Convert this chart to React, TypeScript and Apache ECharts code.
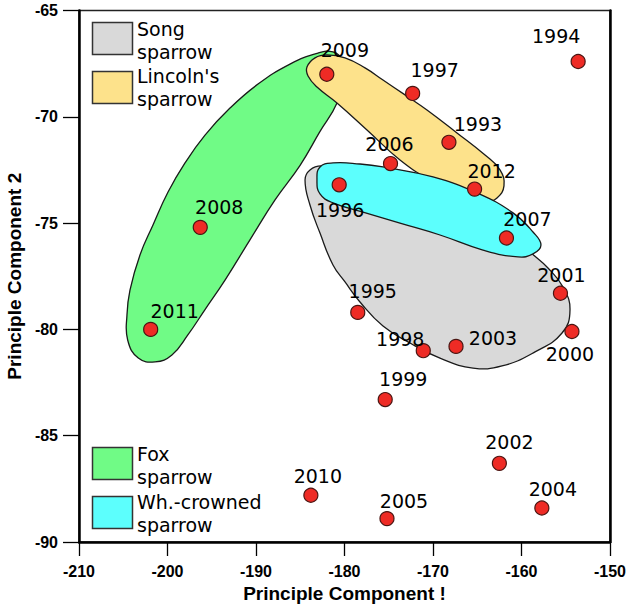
import React, { useEffect, useRef } from "react";
import * as echarts from "echarts";

// ---- data ----
const years = [
  "1993", "1994", "1995", "1996", "1997", "1998", "1999", "2000", "2001", "2002",
  "2003", "2004", "2005", "2006", "2007", "2008", "2009", "2010", "2011", "2012",
];
const pc1 = [
  -168.2, -153.6, -178.5, -180.6, -172.3, -171.1, -175.4, -154.3, -155.6, -162.5,
  -167.4, -157.7, -175.2, -174.8, -161.7, -196.3, -182.0, -183.8, -201.9, -165.3,
];
const pc2 = [
  -71.2, -67.4, -79.2, -73.2, -68.9, -81.0, -83.3, -80.1, -78.3, -86.3,
  -80.8, -88.4, -88.9, -72.2, -75.7, -75.2, -68.0, -87.8, -80.0, -73.4,
];

const xMin = -210, xMax = -150, xStep = 10;
const yMin = -90, yMax = -65, yStep = 5;
const xTitle = "Principle Component !";
const yTitle = "Principle Component 2";

// group outlines in data coordinates
const foxOutline = [
  [-181.3, -66.95], [-180.3, -67.33], [-180.3, -68.27], [-180.85, -69.35], [-182.8, -70.71],
  [-185.0, -72.27], [-187.85, -73.91], [-190.7, -75.8], [-193.5, -77.68], [-195.8, -79.09],
  [-197.7, -80.26], [-199.5, -81.2], [-201.4, -81.53], [-203.3, -81.35], [-204.5, -80.5],
  [-204.58, -79.32], [-204.24, -78.15], [-203.11, -76.5], [-201.64, -75.09], [-199.94, -73.54],
  [-198.02, -72.17], [-195.76, -70.86], [-192.94, -69.59], [-189.77, -68.46], [-186.16, -67.52],
  [-183.0, -67.0],
];
const songOutline = [
  [-184.46, -72.97], [-183.9, -72.5], [-182.54, -72.31], [-178.25, -72.6], [-170.34, -73.44],
  [-162.43, -75.09], [-159.04, -76.36], [-157.01, -77.11], [-155.31, -78.01], [-154.52, -79.09],
  [-155.42, -80.17], [-158.47, -81.06], [-162.2, -81.72], [-165.48, -81.82], [-169.21, -81.35],
  [-172.6, -80.64], [-175.65, -79.84], [-178.25, -78.71], [-179.94, -77.77], [-181.3, -76.97],
  [-182.77, -75.47], [-183.9, -74.15],
];
const lincolnOutline = [
  [-184.24, -67.66], [-183.33, -67.23], [-181.98, -67.09], [-179.94, -67.23], [-177.68, -67.7],
  [-175.65, -68.27], [-173.16, -68.97], [-170.68, -69.68], [-167.29, -70.76], [-164.12, -71.8],
  [-162.43, -72.5], [-161.98, -73.25], [-162.77, -73.82], [-164.01, -74.01], [-165.82, -73.73],
  [-168.08, -73.4], [-170.0, -73.07], [-173.73, -72.03], [-177.46, -70.62], [-180.85, -69.35],
  [-183.11, -68.6], [-184.12, -68.08],
];
const whiteCrownedOutline = [
  [-182.77, -72.36], [-181.3, -72.17], [-178.25, -72.22], [-175.65, -72.36], [-170.0, -72.83],
  [-165.03, -73.58], [-160.96, -74.52], [-158.7, -75.42], [-157.8, -76.03], [-158.7, -76.45],
  [-160.4, -76.59], [-164.35, -76.27], [-169.21, -75.56], [-173.73, -75.0], [-177.91, -74.48],
  [-181.3, -74.05], [-182.77, -73.63], [-183.11, -72.97],
];

const groupNames = ["Song\nsparrow", "Lincoln's\nsparrow", "Fox\nsparrow", "Wh.-crowned\nsparrow"];
const groupColors = ["#d9d9d9", "#fde28b", "#70fb86", "#5cfffd"];

// label placement (pixel offsets from each point)
const labelOffsets = [
  [29, -18], [-22, -26], [15, -21], [1, 25], [22, -23], [-23, -12], [18, -21], [-2, 22], [1, -18], [10, -21],
  [37, -8], [11, -19], [17, -18], [-1, -20], [21, -19], [19, -20], [18, -24], [7, -19], [24, -18], [17, -18],
];

const blobSeries = (outline: number[][], color: string) => ({
  type: "custom",
  coordinateSystem: "cartesian2d",
  silent: true,
  data: [outline[0]],
  renderItem: (_params: any, api: any) => {
    const pts = outline.map((p) => api.coord(p));
    return {
      type: "polygon",
      shape: { points: pts, smooth: 0.45 },
      style: { fill: color, stroke: "#1a1a1a", lineWidth: 1.3 },
    };
  },
});

export default function App() {
  const ref = useRef<HTMLDivElement>(null);
  useEffect(() => {
    if (!ref.current) return;
    const chart = echarts.init(ref.current, null, { renderer: "svg" });
    const axisLabelStyle = {
      fontFamily: "Liberation Sans",
      fontWeight: "bold",
      fontSize: 16,
      color: "#000",
    };
    const legendFont = "DejaVu Sans";
    const legendBox = (y: number, i: number) => ({
      type: "rect",
      shape: { x: 92.5, y, width: 40, height: 32 },
      style: { fill: groupColors[i], stroke: "#333", lineWidth: 1.5 },
    });
    const legendText = (y: number, i: number) => ({
      type: "text",
      x: 137,
      y,
      style: {
        text: groupNames[i],
        fontFamily: legendFont,
        fontSize: 19,
        lineHeight: 23,
        fill: "#000",
        verticalAlign: "top",
      },
    });
    chart.setOption({
      animation: false,
      backgroundColor: "#fff",
      grid: {
        left: 79,
        right: 16,
        top: 10.5,
        bottom: 64,
        show: true,
        borderColor: "#222",
        borderWidth: 1.5,
        outerBoundsMode: "none",
      },
      xAxis: {
        type: "value",
        min: xMin,
        max: xMax,
        interval: xStep,
        name: xTitle,
        nameLocation: "middle",
        nameGap: 41,
        nameTextStyle: { fontFamily: "Liberation Sans", fontWeight: "bold", fontSize: 19, color: "#000" },
        axisLine: { show: true, onZero: false, lineStyle: { color: "#000", width: 2.5 } },
        axisTick: { show: true, inside: false, length: 14, lineStyle: { color: "#000", width: 1.3 } },
        axisLabel: { ...axisLabelStyle, margin: 21 },
        splitLine: { show: false },
      },
      yAxis: [
        {
          type: "value",
          min: yMin,
          max: yMax,
          interval: yStep,
          name: yTitle,
          nameLocation: "middle",
          nameGap: 51,
          nameTextStyle: { fontFamily: "Liberation Sans", fontWeight: "bold", fontSize: 19, color: "#000" },
          axisLine: { show: true, onZero: false, lineStyle: { color: "#000", width: 2.5 } },
          axisTick: { show: true, inside: false, length: 16, lineStyle: { color: "#000", width: 1.3 } },
          axisLabel: { ...axisLabelStyle, margin: 21 },
          splitLine: { show: false },
        },
        {
          type: "value",
          position: "right",
          min: yMin,
          max: yMax,
          interval: yStep,
          axisLine: { show: true, onZero: false, lineStyle: { color: "#000", width: 2.5 } },
          axisTick: { show: false },
          axisLabel: { show: false },
          splitLine: { show: false },
        },
      ],
      series: [
        blobSeries(foxOutline, groupColors[2]),
        blobSeries(songOutline, groupColors[0]),
        blobSeries(lincolnOutline, groupColors[1]),
        blobSeries(whiteCrownedOutline, groupColors[3]),
        {
          type: "scatter",
          symbol: "circle",
          symbolSize: 14,
          itemStyle: { color: "#ee2b25", borderColor: "#4a1512", borderWidth: 1.2, opacity: 1 },
          label: {
            show: true,
            position: "inside",
            formatter: (p: any) => years[p.dataIndex],
            fontFamily: "DejaVu Sans",
            fontSize: 19,
            color: "#000",
            align: "center",
            verticalAlign: "middle",
          },
          data: pc1.map((x, i) => ({
            value: [x, pc2[i]],
            label: { offset: labelOffsets[i] },
          })),
        },
      ],
      graphic: [
        legendBox(22.5, 0),
        legendText(17.5, 0),
        legendBox(71.5, 1),
        legendText(64.5, 1),
        legendBox(447.5, 2),
        legendText(442.5, 2),
        legendBox(496.5, 3),
        legendText(490, 3),
      ],
    });
    return () => chart.dispose();
  }, []);
  return (
    <div
      ref={ref}
      style={{ position: "absolute", left: 0, top: 0, width: 626, height: 606 }}
    />
  );
}
